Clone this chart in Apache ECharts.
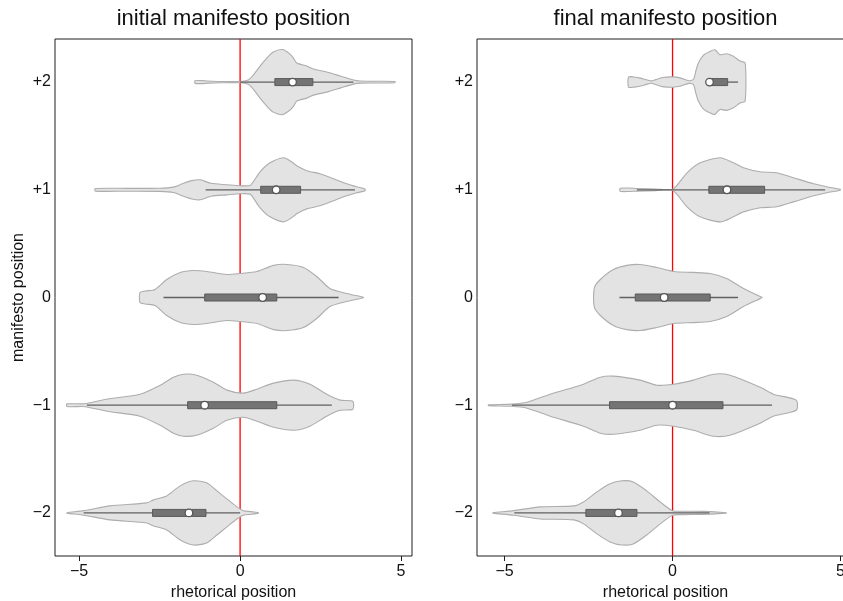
<!DOCTYPE html>
<html>
<head>
<meta charset="utf-8">
<script src="https://cdn.jsdelivr.net/npm/echarts@6/dist/echarts.min.js"></script>
<style>
html, body { margin: 0; padding: 0; background: #fff; }
#main { width: 843px; height: 601px; }
</style>
</head>
<body>
<div id="main"></div>
<script>
// manifesto position categories (y) and tick labels
var categories = [2, 1, 0, -1, -2];
var yTickLabels = ['+2', '+1', '0', '\u22121', '\u22122'];
var xTicks = [-5, 0, 5];
var xTickLabels = ['\u22125', '0', '5'];
var panelTitles = ['initial manifesto position', 'final manifesto position'];
var referenceX = [0];

// violin outlines: [rhetorical position, half width in category units]
var initialP2 = [[-1.40, 0.012], [-1.2, 0.014], [-1.0, 0.010], [-0.6, 0.006], [0.0, 0.006], [0.25, 0.02], [0.41, 0.065], [0.62, 0.149], [0.83, 0.223], [1.03, 0.279], [1.32, 0.302], [1.55, 0.26], [1.66, 0.223], [1.76, 0.177], [2.07, 0.149], [2.28, 0.121], [2.69, 0.093], [3.11, 0.056], [3.52, 0.019], [3.73, 0.01], [4.2, 0.008], [4.81, 0.006]];
var initialP1 = [[-4.50, 0.012], [-3.5, 0.013], [-2.5, 0.015], [-2.07, 0.025], [-1.76, 0.06], [-1.5, 0.085], [-1.24, 0.093], [-0.9, 0.06], [-0.41, 0.047], [0.0, 0.037], [0.31, 0.04], [0.41, 0.075], [0.62, 0.167], [0.93, 0.251], [1.35, 0.298], [1.60, 0.26], [1.76, 0.223], [2.07, 0.177], [2.48, 0.149], [2.90, 0.102], [3.31, 0.056], [3.62, 0.028], [3.88, 0.008]];
var initial0 = [[-3.11, 0.047], [-2.95, 0.06], [-2.64, 0.075], [-2.28, 0.167], [-1.86, 0.233], [-1.45, 0.251], [-1.04, 0.242], [-0.41, 0.214], [0.0, 0.223], [0.52, 0.242], [1.04, 0.298], [1.45, 0.307], [1.97, 0.279], [2.38, 0.195], [2.79, 0.084], [3.31, 0.037], [3.83, 0.002]];
var initialM1 = [[-5.38, 0.012], [-4.9, 0.012], [-4.76, 0.016], [-4.14, 0.056], [-3.11, 0.102], [-2.48, 0.186], [-2.07, 0.26], [-1.76, 0.288], [-1.35, 0.279], [-0.83, 0.214], [-0.41, 0.14], [0.10, 0.112], [0.52, 0.149], [1.04, 0.205], [1.66, 0.233], [2.17, 0.195], [2.69, 0.102], [3.11, 0.047], [3.50, 0.037]];
var initialM2 = [[-5.38, 0.002], [-4.86, 0.021], [-4.04, 0.065], [-2.90, 0.093], [-2.69, 0.121], [-2.28, 0.158], [-1.86, 0.251], [-1.45, 0.298], [-1.04, 0.279], [-0.72, 0.205], [-0.41, 0.13], [-0.10, 0.056], [0.10, 0.021], [0.35, 0.012], [0.57, 0.002]];

var finalP2 = [[-1.31, 0.047], [-1.15, 0.047], [-0.95, 0.037], [-0.75, 0.019], [-0.63, 0.011], [-0.5, 0.023], [-0.3, 0.042], [0.0, 0.048], [0.25, 0.037], [0.45, 0.014], [0.55, 0.014], [0.63, 0.028], [0.70, 0.112], [0.77, 0.177], [0.92, 0.25], [1.11, 0.285], [1.26, 0.30], [1.41, 0.254], [1.61, 0.263], [1.81, 0.239], [2.01, 0.195], [2.16, 0.177]];
var finalP1 = [[-1.56, 0.014], [-1.3, 0.016], [-1.06, 0.012], [-0.5, 0.008], [0.0, 0.004], [0.43, 0.158], [0.82, 0.251], [1.42, 0.298], [1.81, 0.251], [2.11, 0.205], [2.61, 0.167], [3.10, 0.158], [3.60, 0.112], [4.20, 0.056], [4.59, 0.028], [4.99, 0.004]];
var final0 = [[-2.33, 0.088], [-2.15, 0.167], [-1.76, 0.26], [-1.36, 0.298], [-0.97, 0.307], [-0.47, 0.279], [0.03, 0.242], [0.62, 0.233], [1.12, 0.223], [1.61, 0.177], [2.11, 0.084], [2.66, 0.002]];
var finalM1 = [[-5.48, 0.004], [-4.78, 0.01], [-4.33, 0.028], [-3.64, 0.102], [-2.65, 0.195], [-2.15, 0.26], [-1.76, 0.27], [-0.97, 0.233], [-0.47, 0.186], [0.03, 0.195], [0.62, 0.233], [1.22, 0.288], [1.71, 0.279], [2.61, 0.167], [3.00, 0.102], [3.68, 0.047]];
var finalM2 = [[-5.35, 0.002], [-4.73, 0.021], [-3.94, 0.056], [-2.94, 0.065], [-2.65, 0.102], [-2.25, 0.195], [-1.86, 0.27], [-1.51, 0.298], [-1.17, 0.288], [-0.77, 0.205], [-0.37, 0.102], [0.0, 0.021], [0.32, 0.016], [0.92, 0.014], [1.60, 0.002]];

// box stats per category: [lower whisker, q1, median, q3, upper whisker]
var initialBoxes = [
    [0.0, 1.08, 1.63, 2.26, 3.52],
    [-1.07, 0.64, 1.12, 1.88, 3.57],
    [-2.38, -1.10, 0.70, 1.14, 3.06],
    [-4.76, -1.63, -1.10, 1.14, 2.85],
    [-4.86, -2.72, -1.59, -1.06, 0.0]
];
var finalBoxes = [
    [1.07, 1.07, 1.10, 1.64, 1.95],
    [-1.06, 1.08, 1.62, 2.74, 4.54],
    [-1.58, -1.11, -0.25, 1.12, 1.95],
    [-4.78, -1.875, 0.0, 1.50, 2.96],
    [-4.71, -2.58, -1.61, -1.06, 1.10]
];

var initialViolins = [initialP2, initialP1, initial0, initialM1, initialM2];
var finalViolins = [finalP2, finalP1, final0, finalM1, finalM2];

var FONT = 'Liberation Sans, Arial, Helvetica, sans-serif';

function violinRenderer(shapes) {
    return function (params, api) {
        var y = api.value(0);
        var shape = shapes[api.value(1)];
        var top = shape.map(function (p) { return api.coord([p[0], y + p[1]]); });
        var bottom = shape.slice().reverse().map(function (p) { return api.coord([p[0], y - p[1]]); });
        return {
            type: 'polygon',
            shape: { points: top.concat(bottom), smooth: 0.25 },
            style: { fill: '#e3e3e3', stroke: '#adadad', lineWidth: 1.1 }
        };
    };
}

function boxRenderer(stats) {
    return function (params, api) {
        var y = api.value(0);
        var s = stats[api.value(1)];
        var lo = api.coord([s[0], y]);
        var q1 = api.coord([s[1], y]);
        var med = api.coord([s[2], y]);
        var q3 = api.coord([s[3], y]);
        var hi = api.coord([s[4], y]);
        var h = 7;
        return {
            type: 'group',
            children: [
                { type: 'line', shape: { x1: lo[0], y1: lo[1], x2: hi[0], y2: hi[1] }, style: { stroke: '#606060', lineWidth: 1.3 } },
                { type: 'rect', shape: { x: q1[0], y: q1[1] - h / 2, width: q3[0] - q1[0], height: h }, style: { fill: '#747474', stroke: '#595959', lineWidth: 1 } },
                { type: 'circle', shape: { cx: med[0], cy: med[1], r: 3.8 }, style: { fill: '#ffffff', stroke: '#555555', lineWidth: 1.3 } }
            ]
        };
    };
}

// vertical reference line spanning the whole plot area
function refLineRenderer(params, api) {
    var cs = params.coordSys;
    var p = api.coord([api.value(0), 0]);
    return {
        type: 'line',
        shape: { x1: p[0], y1: cs.y, x2: p[0], y2: cs.y + cs.height },
        style: { stroke: '#ff0000', lineWidth: 1.3 }
    };
}

var rows = categories.map(function (c, i) { return [c, i]; });

var myChart = echarts.init(document.getElementById('main'));

var grids = [
    { left: 55, top: 39, width: 357, bottom: 45 },
    { left: 477, top: 39, width: 377, bottom: 45 }
];
var xRanges = [[-5.75, 5.34], [-5.82, 5.40]];

var option = {
    animation: false,
    backgroundColor: '#ffffff',
    title: panelTitles.map(function (t, p) {
        return {
            text: t,
            left: grids[p].left + grids[p].width / 2,
            textAlign: 'center',
            top: 8,
            padding: 0,
            textStyle: { fontFamily: FONT, fontSize: 22, fontWeight: 'normal', color: '#111' }
        };
    }),
    grid: grids.map(function (g) {
        return {
            left: g.left, top: g.top, width: g.width, bottom: g.bottom,
            containLabel: false,
            outerBoundsMode: 'none',
            show: true, borderColor: '#1e1e1e', borderWidth: 1, backgroundColor: 'transparent'
        };
    }),
    xAxis: xRanges.map(function (r, p) {
        return {
            type: 'value',
            gridIndex: p,
            min: r[0],
            max: r[1],
            position: 'bottom',
            name: 'rhetorical position',
            nameLocation: 'middle',
            nameGap: 26,
            nameTextStyle: { fontFamily: FONT, fontSize: 16, color: '#111' },
            axisLine: { show: false, onZero: false },
            splitLine: { show: false },
            axisTick: { show: true, customValues: xTicks, length: 5, lineStyle: { color: '#1e1e1e' } },
            axisLabel: {
                customValues: xTicks,
                margin: 8,
                fontFamily: FONT,
                fontSize: 16,
                color: '#111',
                formatter: function (v) { return xTickLabels[xTicks.indexOf(v)]; }
            }
        };
    }),
    yAxis: [0, 1].map(function (p) {
        return {
            type: 'value',
            gridIndex: p,
            min: -2.4,
            max: 2.4,
            position: 'left',
            name: p === 0 ? 'manifesto position' : '',
            nameLocation: 'middle',
            nameGap: 28,
            nameTextStyle: { fontFamily: FONT, fontSize: 16, color: '#111' },
            axisLine: { show: false, onZero: false },
            splitLine: { show: false },
            axisTick: { show: false },
            axisLabel: {
                customValues: categories,
                margin: 4,
                fontFamily: FONT,
                fontSize: 16,
                color: '#111',
                formatter: function (v) { return yTickLabels[categories.indexOf(v)]; }
            }
        };
    }),
    series: []
};

[initialViolins, finalViolins].forEach(function (shapes, p) {
    var boxes = p === 0 ? initialBoxes : finalBoxes;
    option.series.push({
        type: 'custom',
        xAxisIndex: p,
        yAxisIndex: p,
        z: 1,
        silent: true,
        renderItem: refLineRenderer,
        data: referenceX.map(function (v) { return [v, 0]; })
    });
    option.series.push({
        type: 'custom',
        xAxisIndex: p,
        yAxisIndex: p,
        z: 2,
        renderItem: violinRenderer(shapes),
        data: rows
    });
    option.series.push({
        type: 'custom',
        xAxisIndex: p,
        yAxisIndex: p,
        z: 3,
        renderItem: boxRenderer(boxes),
        data: rows
    });
});

option && myChart.setOption(option, true);
</script>
</body>
</html>
